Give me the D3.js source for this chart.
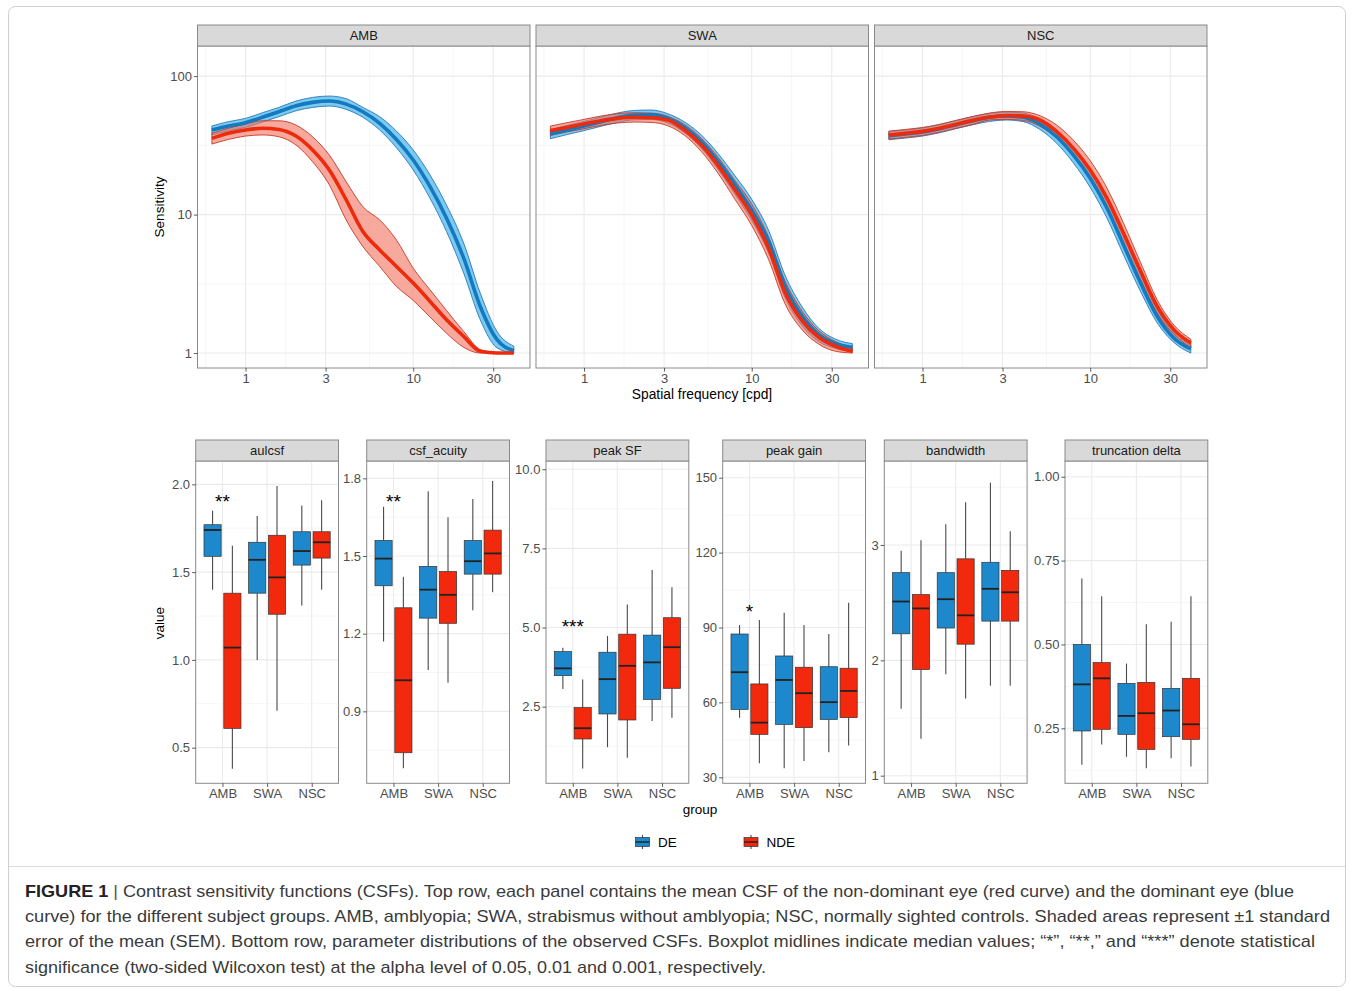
<!DOCTYPE html>
<html>
<head>
<meta charset="utf-8">
<script src="https://cdn.jsdelivr.net/npm/d3@7"></script>
<style>
  body { margin: 0; background: #fff; }
  svg text { font-family: "Liberation Sans", Arial, sans-serif; }
</style>
</head>
<body>
<script>
var groups = ["AMB", "SWA", "NSC"];
var eyes = ["DE", "NDE"];

// ---- top row: mean CSF and +-1 SEM band ----
var freqs = [0.63, 0.79, 1, 1.26, 1.58, 2, 2.51, 3.16, 3.98, 5.01, 6.31, 7.94, 10, 12.6, 15.8, 20, 25.1, 31.6, 39.8];

var ambDeMean = [40.8, 43.6, 46.1, 50.4, 55.3, 61.1, 64.6, 66.1, 62.8, 55.3, 45.6, 34.9, 24.8, 15.9, 9.41, 4.84, 2.17, 1.25, 1.04];
var ambDeLo   = [37.6, 40.3, 42.6, 46.6, 50.9, 56.2, 59.4, 60.8, 57.5, 50.4, 40.8, 30.4, 21.0, 13.1, 7.54, 3.78, 1.74, 1.09, 1.0];
var ambDeHi   = [43.6, 46.9, 49.5, 54.4, 59.4, 66.1, 70.2, 71.8, 68.7, 59.4, 50.9, 40.1, 29.3, 19.3, 11.7, 6.21, 2.71, 1.43, 1.12];
var ambNdeMean = [35.5, 38.6, 40.8, 42.0, 41.2, 36.9, 29.3, 21.0, 12.8, 7.54, 5.56, 4.22, 3.20, 2.36, 1.74, 1.32, 1.03, 1.0, 1.0];
var ambNdeLo   = [32.3, 34.9, 36.9, 37.6, 36.5, 31.8, 24.1, 16.4, 9.15, 5.88, 4.22, 3.03, 2.40, 1.82, 1.39, 1.10, 1.0, 1.0, 1.0];
var ambNdeHi   = [38.6, 42.0, 45.1, 47.6, 47.6, 44.3, 36.5, 26.9, 17.3, 11.4, 9.15, 6.56, 4.10, 2.86, 2.03, 1.43, 1.06, 1.0, 1.0];

var swaDeMean = [38.2, 40.8, 43.6, 46.9, 50.1, 52.3, 52.6, 49.5, 42.6, 33.6, 24.1, 16.4, 10.8, 6.39, 3.03, 1.84, 1.36, 1.17, 1.10];
var swaDeLo   = [35.3, 37.8, 40.4, 43.4, 46.3, 48.4, 48.7, 45.8, 39.0, 30.1, 21.1, 14.0, 9.05, 5.29, 2.51, 1.57, 1.21, 1.08, 1.03];
var swaDeHi   = [41.2, 44.1, 47.1, 50.6, 54.1, 56.5, 56.9, 53.5, 46.6, 37.5, 27.5, 19.1, 12.9, 7.71, 3.65, 2.15, 1.51, 1.26, 1.17];
var swaNdeMean = [40.4, 42.6, 45.1, 47.6, 49.5, 50.4, 50.1, 48.2, 40.8, 31.8, 22.6, 15.1, 9.95, 5.72, 2.74, 1.71, 1.30, 1.12, 1.03];
var swaNdeLo   = [37.3, 39.5, 41.7, 44.1, 45.8, 46.6, 46.3, 43.8, 37.3, 28.5, 19.8, 12.9, 8.33, 4.74, 2.27, 1.47, 1.16, 1.03, 1.0];
var swaNdeHi   = [43.6, 46.1, 48.7, 51.5, 53.5, 54.4, 54.1, 51.2, 44.6, 35.5, 25.8, 17.6, 11.9, 6.90, 3.31, 2.0, 1.45, 1.21, 1.10];

var nscDeMean = [37.1, 38.2, 39.5, 41.7, 44.6, 47.6, 50.4, 51.5, 50.4, 45.1, 36.5, 26.9, 18.3, 11.1, 6.04, 3.20, 1.84, 1.28, 1.07];
var nscDeLo   = [34.7, 35.7, 36.9, 39.0, 41.7, 44.6, 47.1, 48.2, 46.9, 41.2, 32.7, 23.6, 15.7, 9.41, 5.12, 2.77, 1.65, 1.19, 1.0];
var nscDeHi   = [39.7, 40.8, 42.2, 44.6, 47.6, 50.9, 53.8, 55.0, 54.1, 49.2, 40.8, 30.8, 21.3, 13.1, 7.13, 3.69, 2.05, 1.39, 1.14];
var nscNdeMean = [37.5, 38.6, 39.9, 42.0, 44.8, 47.9, 50.6, 52.0, 51.5, 48.2, 39.7, 30.1, 21.0, 13.1, 7.33, 3.88, 2.17, 1.47, 1.18];
var nscNdeLo   = [35.1, 36.1, 37.3, 39.3, 42.0, 44.8, 48.2, 48.7, 47.9, 43.4, 35.5, 26.3, 18.0, 11.1, 6.21, 3.36, 1.94, 1.36, 1.10];
var nscNdeHi   = [40.1, 41.2, 42.6, 44.8, 47.9, 51.2, 54.1, 55.6, 55.3, 51.8, 44.3, 34.4, 24.5, 15.5, 8.66, 4.48, 2.42, 1.59, 1.26];

var topXTicks = [1, 3, 10, 30];
var topYTicks = [1, 10, 100];

// ---- bottom row: boxplots [lower whisker, Q1, median, Q3, upper whisker] ----
// order: AMB DE, AMB NDE, SWA DE, SWA NDE, NSC DE, NSC NDE
var params = ["aulcsf", "csf_acuity", "peak SF", "peak gain", "bandwidth", "truncation delta"];
var aulcsfBox = [[1.40, 1.59, 1.74, 1.77, 1.85], [0.38, 0.61, 1.07, 1.38, 1.65],
                 [1.00, 1.38, 1.57, 1.67, 1.82], [0.71, 1.26, 1.47, 1.71, 1.99],
                 [1.31, 1.54, 1.62, 1.73, 1.88], [1.40, 1.58, 1.67, 1.73, 1.91]];
var acuityBox = [[1.17, 1.385, 1.49, 1.56, 1.69], [0.68, 0.74, 1.02, 1.30, 1.42],
                 [1.06, 1.26, 1.37, 1.46, 1.75], [1.01, 1.24, 1.35, 1.44, 1.65],
                 [1.29, 1.43, 1.48, 1.56, 1.72], [1.36, 1.43, 1.51, 1.60, 1.79]];
var peakSfBox = [[3.06, 3.48, 3.71, 4.24, 4.36], [0.55, 1.48, 1.82, 2.47, 3.36],
                 [1.22, 2.27, 3.37, 4.22, 4.73], [0.89, 2.08, 3.79, 4.79, 5.73],
                 [2.05, 2.73, 3.90, 4.76, 6.82], [2.15, 3.08, 4.38, 5.31, 6.27]];
var peakGainBox = [[53.9, 57.2, 72.1, 87.4, 91.0], [35.6, 47.2, 51.9, 67.4, 93.0],
                   [33.6, 51.2, 69.0, 78.6, 95.9], [36.5, 49.9, 63.7, 74.1, 91.0],
                   [40.0, 53.2, 60.1, 74.3, 87.4], [42.7, 53.9, 64.6, 73.7, 99.9]];
var bandwidthBox = [[1.58, 2.23, 2.51, 2.76, 2.95], [1.32, 1.92, 2.45, 2.57, 3.04],
                    [1.88, 2.28, 2.53, 2.76, 3.18], [1.67, 2.14, 2.39, 2.88, 3.37],
                    [1.78, 2.34, 2.62, 2.85, 3.54], [1.78, 2.34, 2.59, 2.78, 3.12]];
var truncBox = [[0.141, 0.242, 0.381, 0.500, 0.697], [0.202, 0.247, 0.399, 0.446, 0.644],
                [0.165, 0.232, 0.287, 0.384, 0.443], [0.131, 0.187, 0.295, 0.387, 0.560],
                [0.161, 0.225, 0.303, 0.369, 0.568], [0.136, 0.217, 0.262, 0.399, 0.644]];

var paramTicks = [[0.5, 1.0, 1.5, 2.0], [0.9, 1.2, 1.5, 1.8], [2.5, 5.0, 7.5, 10.0],
                  [30, 60, 90, 120, 150], [1, 2, 3], [0.25, 0.50, 0.75, 1.00]];
var paramFormats = [".1f", ".1f", ".1f", "d", "d", ".2f"];
var paramLimits = [[0.297, 2.133], [0.622, 1.867], [0.08, 10.26], [27.6, 156.7], [0.934, 3.728], [0.086, 1.047]];
var sigLabels = ["**", "**", "***", "*", "", ""];
var sigValues = [1.924, 1.724, 5.14, 97.7, null, null];

var captionLines = [
  "Contrast sensitivity functions (CSFs). Top row, each panel contains the mean CSF of the non-dominant eye (red curve) and the dominant eye (blue",
  "curve) for the different subject groups. AMB, amblyopia; SWA, strabismus without amblyopia; NSC, normally sighted controls. Shaded areas represent \u00b11 standard",
  "error of the mean (SEM). Bottom row, parameter distributions of the observed CSFs. Boxplot midlines indicate median values; \u201c*\u201d, \u201c**,\u201d and \u201c***\u201d denote statistical",
  "significance (two-sided Wilcoxon test) at the alpha level of 0.05, 0.01 and 0.001, respectively."
];
// right end of each caption line in the figure
var captionEnds = [1294, 1330, 1315, 766];

// ---- styling ----
var fillCol = { DE: "#1E88CC", NDE: "#F2290C" };
var ribbonFill = { DE: "#4DB8F0", NDE: "#F07460" };
var ribbonLine = { DE: "#2A78B4", NDE: "#C6392A" };
var lineCol = { DE: "#1479BD", NDE: "#EE2A0C" };

var W = 1354, H = 991;
var svg = d3.select("body").append("svg").attr("width", W).attr("height", H);

svg.append("rect").attr("x", 8.5).attr("y", 6.5).attr("width", 1337).attr("height", 980)
    .attr("rx", 7).attr("fill", "#fff").attr("stroke", "#cfcfcf");
svg.append("line").attr("x1", 9).attr("x2", 1345).attr("y1", 866.5).attr("y2", 866.5)
    .attr("stroke", "#dcdcdc");

var curveData = {
    AMB: { DE: [ambDeMean, ambDeLo, ambDeHi], NDE: [ambNdeMean, ambNdeLo, ambNdeHi] },
    SWA: { DE: [swaDeMean, swaDeLo, swaDeHi], NDE: [swaNdeMean, swaNdeLo, swaNdeHi] },
    NSC: { DE: [nscDeMean, nscDeLo, nscDeHi], NDE: [nscNdeMean, nscNdeLo, nscNdeHi] }
};
var boxData = [aulcsfBox, acuityBox, peakSfBox, peakGainBox, bandwidthBox, truncBox];

// ggplot-like minor breaks: midpoints between major breaks, one extra on each side
function minorBreaks(t, lim) {
    var out = [];
    for (var i = 0; i < t.length - 1; i++) out.push((t[i] + t[i + 1]) / 2);
    out.push(t[0] - (t[1] - t[0]) / 2);
    out.push(t[t.length - 1] + (t[t.length - 1] - t[t.length - 2]) / 2);
    return out.filter(function (v) { return v > lim[0] && v < lim[1]; });
}

function styleAxis(g) {
    g.select(".domain").remove();
    g.selectAll(".tick line").attr("stroke", "#333").attr("stroke-width", 0.8);
    g.selectAll(".tick text").attr("fill", "#4d4d4d").style("font-size", "13px")
        .style("font-family", "'Liberation Sans', Arial, sans-serif");
}

function drawStrip(x0, y0, w, h, label) {
    svg.append("rect").attr("x", x0).attr("y", y0).attr("width", w).attr("height", h)
        .attr("fill", "#d9d9d9").attr("stroke", "#8a8a8a").attr("stroke-width", 1);
    svg.append("text").attr("x", x0 + w / 2).attr("y", y0 + h / 2 + 4.6)
        .attr("text-anchor", "middle").attr("fill", "#1a1a1a").style("font-size", "13px").text(label);
}

// ---------------- top row ----------------
var topX0 = [197.5, 536, 874.5], topW = 332.5, topY0 = 46, topY1 = 368, topStripY = 25;
var topXLim = [0.517, 49.7], topYLim = [0.78, 165];

groups.forEach(function (grp, gi) {
    var x0 = topX0[gi];
    var x = d3.scaleLog().domain(topXLim).range([x0, x0 + topW]);
    var y = d3.scaleLog().domain(topYLim).range([topY1, topY0]);
    var g = svg.append("g");

    var lx = topXTicks.map(Math.log10), ly = topYTicks.map(Math.log10);
    var xMinor = minorBreaks(lx, topXLim.map(Math.log10)).map(function (v) { return Math.pow(10, v); });
    var yMinor = minorBreaks(ly, topYLim.map(Math.log10)).map(function (v) { return Math.pow(10, v); });

    xMinor.forEach(function (v) {
        g.append("line").attr("x1", x(v)).attr("x2", x(v)).attr("y1", topY0).attr("y2", topY1)
            .attr("stroke", "#f4f4f4").attr("stroke-width", 0.8);
    });
    yMinor.forEach(function (v) {
        g.append("line").attr("x1", x0).attr("x2", x0 + topW).attr("y1", y(v)).attr("y2", y(v))
            .attr("stroke", "#f4f4f4").attr("stroke-width", 0.8);
    });
    topXTicks.forEach(function (v) {
        g.append("line").attr("x1", x(v)).attr("x2", x(v)).attr("y1", topY0).attr("y2", topY1)
            .attr("stroke", "#ebebeb").attr("stroke-width", 1.1);
    });
    topYTicks.forEach(function (v) {
        g.append("line").attr("x1", x0).attr("x2", x0 + topW).attr("y1", y(v)).attr("y2", y(v))
            .attr("stroke", "#ebebeb").attr("stroke-width", 1.1);
    });

    svg.append("clipPath").attr("id", "clipTop" + gi).append("rect")
        .attr("x", x0).attr("y", topY0).attr("width", topW).attr("height", topY1 - topY0);
    var cg = g.append("g").attr("clip-path", "url(#clipTop" + gi + ")");

    var series = curveData[grp];
    function pts(e) {
        return freqs.map(function (f, i) {
            return { f: f, m: series[e][0][i], lo: series[e][1][i], hi: series[e][2][i] };
        });
    }
    var area = d3.area().x(function (d) { return x(d.f); })
        .y0(function (d) { return y(d.lo); }).y1(function (d) { return y(d.hi); })
        .curve(d3.curveMonotoneX);
    var line = d3.line().x(function (d) { return x(d.f); }).y(function (d) { return y(d.m); })
        .curve(d3.curveMonotoneX);

    eyes.forEach(function (e) {
        cg.append("path").datum(pts(e)).attr("d", area)
            .attr("fill", ribbonFill[e]).attr("fill-opacity", e == "DE" ? 0.75 : 0.62)
            .attr("stroke", ribbonLine[e]).attr("stroke-width", 0.9);
    });
    eyes.forEach(function (e) {
        cg.append("path").datum(pts(e)).attr("d", line)
            .attr("fill", "none").attr("stroke", lineCol[e]).attr("stroke-width", 3.6);
    });

    g.append("rect").attr("x", x0).attr("y", topY0).attr("width", topW).attr("height", topY1 - topY0)
        .attr("fill", "none").attr("stroke", "#8a8a8a").attr("stroke-width", 1);
    drawStrip(x0, topStripY, topW, topY0 - topStripY, grp);

    svg.append("g").attr("transform", "translate(0," + topY1 + ")")
        .call(d3.axisBottom(x).tickValues(topXTicks).tickFormat(d3.format("d")).tickSize(3.6).tickPadding(2))
        .call(styleAxis);
    if (gi == 0) {
        svg.append("g").attr("transform", "translate(" + x0 + ",0)")
            .call(d3.axisLeft(y).tickValues(topYTicks).tickFormat(d3.format("d")).tickSize(3.6).tickPadding(2))
            .call(styleAxis);
    }
});

svg.append("text").attr("transform", "translate(164,207) rotate(-90)").attr("text-anchor", "middle")
    .attr("fill", "#000").style("font-size", "13.5px").text("Sensitivity");
svg.append("text").attr("x", 702).attr("y", 398.5).attr("text-anchor", "middle")
    .attr("fill", "#000").style("font-size", "13.8px").text("Spatial frequency [cpd]");

// ---------------- bottom row ----------------
var botX0 = [195.7, 366.7, 546, 722.7, 884.3, 1065], botW = 142.8;
var botY0 = 461, botY1 = 783.3, botStripY = 440;

params.forEach(function (p, pi) {
    var x0 = botX0[pi];
    var x = d3.scalePoint().domain(groups).range([x0, x0 + botW]).padding(0.6);
    var step = x.step();
    var y = d3.scaleLinear().domain(paramLimits[pi]).range([botY1, botY0]);
    var g = svg.append("g");

    minorBreaks(paramTicks[pi], paramLimits[pi]).forEach(function (v) {
        g.append("line").attr("x1", x0).attr("x2", x0 + botW).attr("y1", y(v)).attr("y2", y(v))
            .attr("stroke", "#f4f4f4").attr("stroke-width", 0.8);
    });
    paramTicks[pi].forEach(function (v) {
        g.append("line").attr("x1", x0).attr("x2", x0 + botW).attr("y1", y(v)).attr("y2", y(v))
            .attr("stroke", "#ebebeb").attr("stroke-width", 1.1);
    });
    groups.forEach(function (grp) {
        g.append("line").attr("x1", x(grp)).attr("x2", x(grp)).attr("y1", botY0).attr("y2", botY1)
            .attr("stroke", "#ebebeb").attr("stroke-width", 1.1);
    });

    var boxes = boxData[pi];
    var bw = 0.385 * step, off = 0.222 * step;
    groups.forEach(function (grp, gi) {
        eyes.forEach(function (e, ei) {
            var b = boxes[gi * 2 + ei];
            var cx = x(grp) + (ei == 0 ? -off : off);
            g.append("line").attr("x1", cx).attr("x2", cx).attr("y1", y(b[0])).attr("y2", y(b[1]))
                .attr("stroke", "#4a4a4a").attr("stroke-width", 1.1);
            g.append("line").attr("x1", cx).attr("x2", cx).attr("y1", y(b[3])).attr("y2", y(b[4]))
                .attr("stroke", "#4a4a4a").attr("stroke-width", 1.1);
            g.append("rect").attr("x", cx - bw / 2).attr("y", y(b[3])).attr("width", bw)
                .attr("height", y(b[1]) - y(b[3])).attr("fill", fillCol[e])
                .attr("stroke", "#333").attr("stroke-width", 0.7);
            g.append("line").attr("x1", cx - bw / 2).attr("x2", cx + bw / 2).attr("y1", y(b[2])).attr("y2", y(b[2]))
                .attr("stroke", "#222").attr("stroke-width", 1.8);
        });
    });

    if (sigLabels[pi]) {
        g.append("text").attr("x", x("AMB")).attr("y", y(sigValues[pi]) + 10)
            .attr("text-anchor", "middle").attr("fill", "#000").style("font-size", "19px")
            .text(sigLabels[pi]);
    }

    g.append("rect").attr("x", x0).attr("y", botY0).attr("width", botW).attr("height", botY1 - botY0)
        .attr("fill", "none").attr("stroke", "#8a8a8a").attr("stroke-width", 1);
    drawStrip(x0, botStripY, botW, botY0 - botStripY, p);

    svg.append("g").attr("transform", "translate(0," + botY1 + ")")
        .call(d3.axisBottom(x).tickSize(3.6).tickPadding(2)).call(styleAxis);
    svg.append("g").attr("transform", "translate(" + x0 + ",0)")
        .call(d3.axisLeft(y).tickValues(paramTicks[pi]).tickFormat(d3.format(paramFormats[pi]))
            .tickSize(3.6).tickPadding(2))
        .call(styleAxis);
});

svg.append("text").attr("transform", "translate(164,623) rotate(-90)").attr("text-anchor", "middle")
    .attr("fill", "#000").style("font-size", "13.5px").text("value");
svg.append("text").attr("x", 700).attr("y", 813.5).attr("text-anchor", "middle")
    .attr("fill", "#000").style("font-size", "13.5px").text("group");

// legend
var legendX = { DE: 642.5, NDE: 751 };
eyes.forEach(function (e) {
    var lg = svg.append("g").attr("transform", "translate(" + legendX[e] + ",842)");
    lg.append("line").attr("y1", -7).attr("y2", 7).attr("stroke", "#4a4a4a").attr("stroke-width", 1.1);
    lg.append("rect").attr("x", -7).attr("y", -4.5).attr("width", 14).attr("height", 9)
        .attr("fill", fillCol[e]).attr("stroke", "#333").attr("stroke-width", 0.7);
    lg.append("line").attr("x1", -7).attr("x2", 7).attr("stroke", "#222").attr("stroke-width", 1.4);
    lg.append("text").attr("x", 15.5).attr("y", 5).attr("fill", "#000").style("font-size", "13.5px").text(e);
});

// caption
var capBase = [896.7, 922, 947.3, 972.7];
captionLines.forEach(function (t, i) {
    var tx = svg.append("text").attr("x", 25).attr("y", capBase[i]).attr("fill", "#3a3a3a")
        .style("font-size", "16.4px")
        .attr("textLength", captionEnds[i] - 25).attr("lengthAdjust", "spacingAndGlyphs");
    if (i == 0) {
        tx.append("tspan").style("font-weight", "bold").attr("fill", "#222").text("FIGURE 1");
        tx.append("tspan").attr("fill", "#555").text(" | ");
    }
    tx.append("tspan").text(t);
});
</script>
</body>
</html>
